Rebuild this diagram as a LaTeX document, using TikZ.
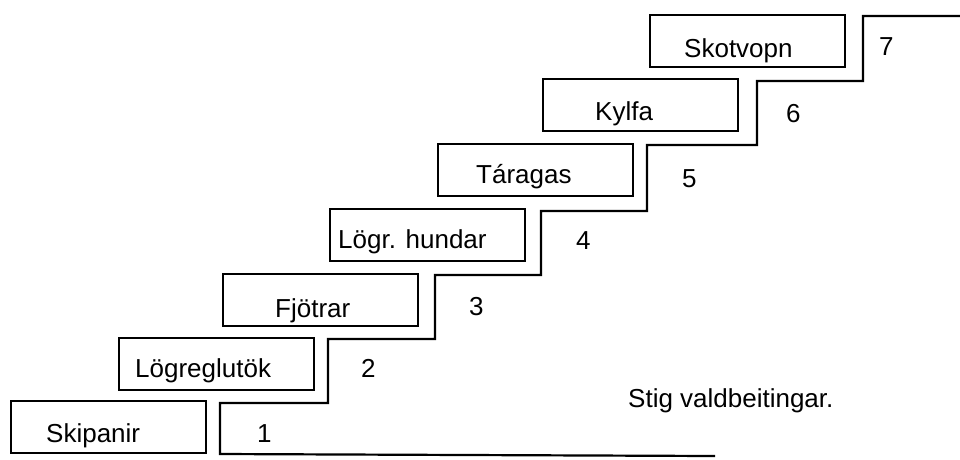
\documentclass[tikz,border=0pt]{standalone}
\usepackage{fontspec}
\setmainfont{Liberation Sans}
\begin{document}
\begin{tikzpicture}[x=1pt,y=-1pt,
  box/.style={draw,line width=2.2pt,minimum width=195pt,minimum height=52pt,inner sep=0pt,anchor=north west},
  lbl/.style={anchor=base west,inner sep=0pt,font=\fontsize{26}{30}\selectfont},
  stair/.style={line width=2.2pt,line join=miter}]
\useasboundingbox (0,0) rectangle (960,459);
% boxes
\node[box] (b1) at (10,400) {};
\node[box] (b2) at (118,337) {};
\node[box] (b3) at (222,273) {};
\node[box] (b4) at (329,208) {};
\node[box] (b5) at (437,143) {};
\node[box] (b6) at (542,78) {};
\node[box] (b7) at (649,14) {};
% box texts
\node[lbl] (t1) at (46,442) {Skipanir};
\node[lbl] (t2) at (135,377) {Lögreglutök};
\node[lbl] (t3) at (275,317) {Fjötrar};
\node[lbl] (t4) at (338,248) {Lögr. hundar};
\node[lbl] (t5) at (476,183) {Táragas};
\node[lbl] (t6) at (595,120) {Kylfa};
\node[lbl] (t7) at (684,57) {Skotvopn};
% step numbers
\node[lbl] (n1) at (257,442) {1};
\node[lbl] (n2) at (361,377) {2};
\node[lbl] (n3) at (469,315) {3};
\node[lbl] (n4) at (576,249) {4};
\node[lbl] (n5) at (682,187) {5};
\node[lbl] (n6) at (786,122) {6};
\node[lbl] (n7) at (879,55) {7};
% caption
\node[lbl] (cap) at (628,407) {Stig valdbeitingar.};
% staircase
\coordinate (s0) at (715,456);
\coordinate (s1) at (220,454);
\coordinate (s15) at (960,16);
\draw[stair] (s0) -- (s1) -- (220,403) -- (328,403) -- (328,339) -- (435,339)
  -- (435,275) -- (541,275) -- (541,211) -- (647,211) -- (647,145) -- (757,145)
  -- (757,81) -- (863,81) -- (863,16) -- (s15);
\end{tikzpicture}
\end{document}
